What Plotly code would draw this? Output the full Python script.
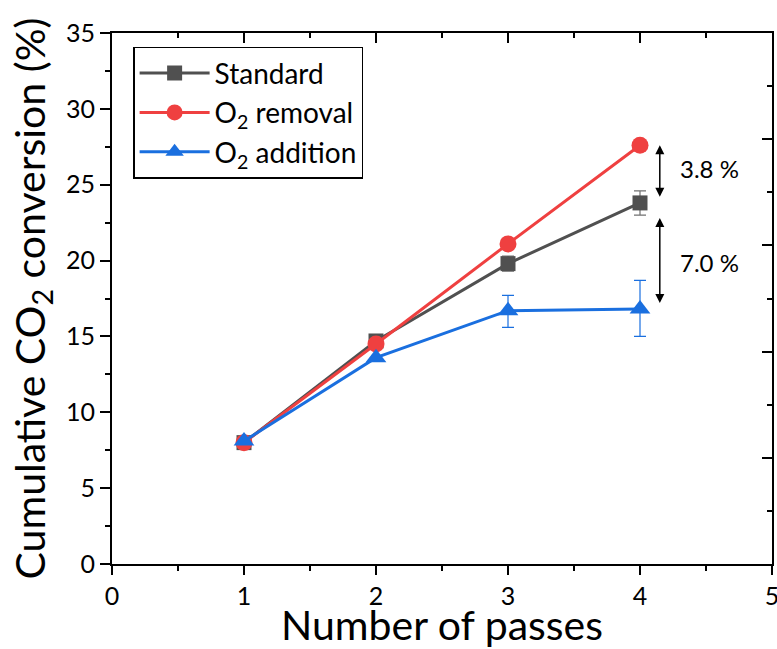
import plotly.graph_objects as go

# ---- data ----
passes = [1, 2, 3, 4]
standard = [8.0, 14.7, 19.8, 23.8]
standard_err = [0.0, 0.0, 0.5, 0.8]
o2_removal = [8.0, 14.5, 21.1, 27.6]
o2_addition = [8.1, 13.6, 16.7, 16.8]
o2_addition_err_plus = [0.0, 0.0, 1.0, 1.9]
o2_addition_err_minus = [0.0, 0.0, 1.1, 1.8]

series_names = ["Standard", "O<sub>2</sub> removal", "O<sub>2</sub> addition"]
x_ticks = [0, 1, 2, 3, 4, 5]
y_ticks = [0, 5, 10, 15, 20, 25, 30, 35]

# difference annotations (arrow spans, in data units)
arrow_x = 4.15
diff_spans = [(27.7, 24.2), (22.9, 17.2)]
diff_labels = ["3.8 %", "7.0 %"]
diff_label_x = 4.53
diff_label_y = [26.1, 19.9]

FONT = "Lato"
GRAY = "#505050"
RED = "#EF4040"
BLUE = "#1A6FDF"

fig = go.Figure()

fig.add_trace(go.Scatter(
    x=passes, y=standard, name=series_names[0], mode="lines+markers",
    line=dict(color=GRAY, width=3),
    marker=dict(symbol="square", size=15, color=GRAY),
    error_y=dict(type="data", array=standard_err, visible=True,
                 color="#707070", thickness=1.2, width=6),
))
fig.add_trace(go.Scatter(
    x=passes, y=o2_removal, name=series_names[1], mode="lines+markers",
    line=dict(color=RED, width=3),
    marker=dict(symbol="circle", size=17, color=RED),
))
fig.add_trace(go.Scatter(
    x=passes, y=o2_addition, name=series_names[2], mode="lines+markers",
    line=dict(color=BLUE, width=3),
    marker=dict(symbol="triangle-up", size=18, color=BLUE),
    error_y=dict(type="data", symmetric=False, array=o2_addition_err_plus,
                 arrayminus=o2_addition_err_minus, visible=True,
                 color=BLUE, thickness=1.2, width=6),
))
# helper trace for mirrored (top/right) axes
fig.add_trace(go.Scatter(x=[None], y=[None], xaxis="x2", yaxis="y2",
                         showlegend=False, hoverinfo="skip"))

for (y_top, y_bot) in diff_spans:
    fig.add_annotation(
        x=arrow_x, y=y_bot, ax=arrow_x, ay=y_top, xref="x", yref="y",
        axref="x", ayref="y", text="", showarrow=True,
        arrowhead=2, arrowsize=1.2, arrowwidth=1.5, arrowcolor="black",
        arrowside="end+start",
    )
for lbl, ly in zip(diff_labels, diff_label_y):
    fig.add_annotation(x=diff_label_x, y=ly, xref="x", yref="y", text=lbl,
                       showarrow=False, font=dict(family=FONT, size=24, color="black"))

axis_common = dict(showgrid=False, zeroline=False, showline=True,
                   linecolor="black", linewidth=2, tickcolor="black", tickwidth=2)

fig.update_layout(
    width=777, height=649,
    margin=dict(l=112, r=5, t=33, b=85, autoexpand=False),
    paper_bgcolor="white", plot_bgcolor="white",
    font=dict(family=FONT, color="black"),
    xaxis=dict(range=[0, 5], tickvals=x_ticks, ticks="outside", ticklen=9,
               tickfont=dict(size=25), ticklabeloverflow="allow",
               title=dict(text="Number of passes", font=dict(size=41), standoff=2),
               minor=dict(dtick=0.5, ticks="outside", ticklen=5, tickwidth=2, tickcolor="black"),
               **axis_common),
    yaxis=dict(range=[0, 35], tickvals=y_ticks, ticks="outside", ticklen=10,
               tickfont=dict(size=25), ticklabeloverflow="allow",
               title=dict(text="Cumulative CO<sub>2</sub> conversion (%)", font=dict(size=41), standoff=8),
               minor=dict(dtick=2.5, ticks="outside", ticklen=5, tickwidth=2, tickcolor="black"),
               **axis_common),
    xaxis2=dict(range=[0, 5], overlaying="x", side="top", anchor="y",
                dtick=1, ticks="inside", ticklen=10, showticklabels=False,
                minor=dict(dtick=0.5, ticks="inside", ticklen=5, tickwidth=2, tickcolor="black"),
                **axis_common),
    yaxis2=dict(range=[0, 5], overlaying="y", side="right", anchor="x",
                dtick=1, ticks="inside", ticklen=10, showticklabels=False,
                minor=dict(dtick=0.5, ticks="inside", ticklen=5, tickwidth=2, tickcolor="black"),
                **axis_common),
    legend=dict(x=0.032, y=0.974, xanchor="left", yanchor="top",
                bordercolor="black", borderwidth=1.5, bgcolor="white",
                font=dict(family=FONT, size=28), itemwidth=70),
    showlegend=True,
)

# remove the browser's default 8px page margin so the figure fills the window
fig.write_html(
    "out.html",
    config={"displayModeBar": False},
    post_script="document.body.style.margin='0';document.body.style.overflow='hidden';"
                "document.documentElement.style.overflow='hidden';",
)
